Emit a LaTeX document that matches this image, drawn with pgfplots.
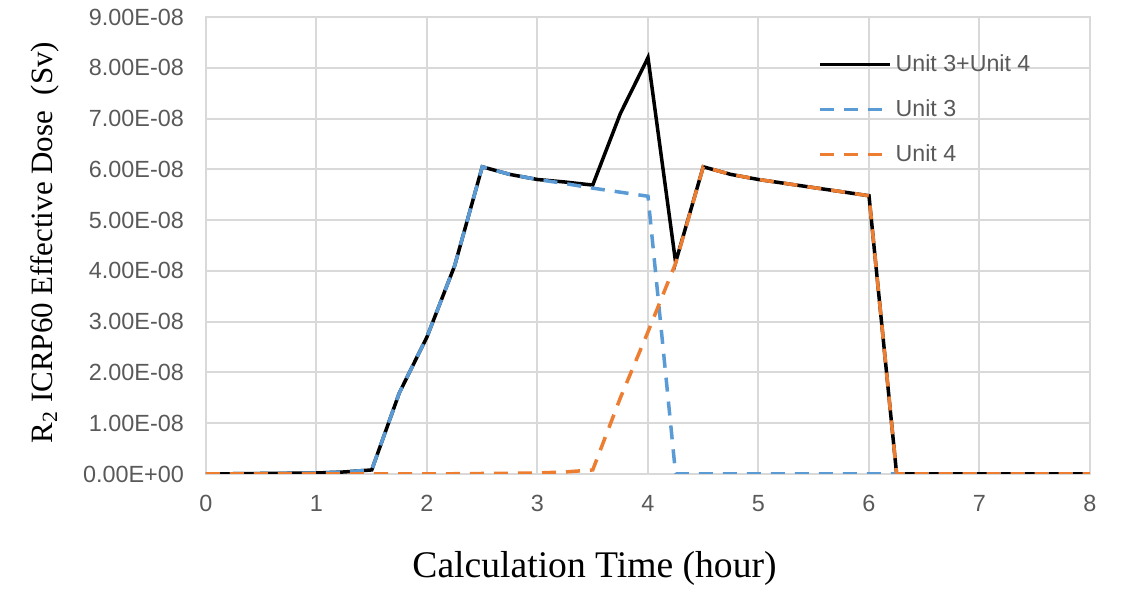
\documentclass[border=0pt]{standalone}
\usepackage{fontspec}
\setmainfont{Liberation Serif}
\newfontfamily\ticksfont{Liberation Sans}
\usepackage{pgfplots}
\pgfplotsset{compat=1.18}
\definecolor{unitblue}{HTML}{5B9BD5}
\definecolor{unitorange}{HTML}{ED7D31}
\definecolor{gridgray}{HTML}{D9D9D9}
\definecolor{labgray}{HTML}{595959}

\begin{document}
\begin{tikzpicture}
\begin{axis}[
  scale only axis,
  width=442pt, height=228.5pt,
  xmin=0, xmax=8, ymin=0, ymax=9e-8,
  xtick={0,1,...,8},
  ytick={0,1e-8,2e-8,3e-8,4e-8,5e-8,6e-8,7e-8,8e-8,9e-8},
  yticklabels={0.00E+00,1.00E-08,2.00E-08,3.00E-08,4.00E-08,5.00E-08,6.00E-08,7.00E-08,8.00E-08,9.00E-08},
  scaled y ticks=false,
  grid=major, grid style={gridgray, line width=1pt},
  axis line style={gridgray, line width=1pt},
  major tick length=0pt,
  tick label style={font=\ticksfont\fontsize{11.7}{13}\selectfont, text=labgray},
  /pgf/number format/assume math mode=true,
  yticklabel style={xshift=-7.5pt},
  xticklabel style={yshift=-7pt},
  xlabel={Calculation Time (hour)},
  ylabel={R\textsubscript{2} ICRP60 Effective Dose~~(Sv)},
  xlabel style={font=\fontsize{18.8}{21}\selectfont, at={(axis description cs:0.4395,-0.2057)}, anchor=center},
  ylabel style={font=\fontsize{15.5}{18}\selectfont, at={(axis description cs:-0.1821,0.5066)}, anchor=center},
  legend style={draw=none, fill=none, at={(0.692,0.927)}, anchor=north west,
    font=\ticksfont\fontsize{11.6}{13}\selectfont, text=labgray,
    row sep=8.5pt, inner sep=0pt},
  legend cell align=left,
  legend image code/.code={\draw[#1] (0pt,0pt) -- (35pt,0pt);},
]
\addplot[black, line width=1.75pt] coordinates {
  (0,0)(0.25,0.005e-8)(0.5,0.01e-8)(0.75,0.015e-8)(1,0.02e-8)(1.25,0.04e-8)(1.5,0.08e-8)
  (1.75,1.6e-8)(2,2.7e-8)(2.25,4.1e-8)(2.5,6.05e-8)(2.75,5.9e-8)(3,5.8e-8)(3.25,5.75e-8)
  (3.5,5.69e-8)(3.75,7.1e-8)(4,8.2e-8)(4.25,4.17e-8)(4.5,6.05e-8)(4.75,5.9e-8)(5,5.8e-8)
  (5.25,5.72e-8)(5.5,5.64e-8)(5.75,5.56e-8)(6,5.48e-8)(6.25,0)(6.5,0)(6.75,0)(7,0)
  (7.25,0)(7.5,0)(7.75,0)(8,0)};
\addlegendentry{Unit 3+Unit 4}
\addplot[unitblue, line width=1.75pt, dash pattern=on 7pt off 5pt] coordinates {
  (0,0)(0.25,0.005e-8)(0.5,0.01e-8)(0.75,0.015e-8)(1,0.02e-8)(1.25,0.04e-8)(1.5,0.08e-8)
  (1.75,1.6e-8)(2,2.7e-8)(2.25,4.1e-8)(2.5,6.05e-8)(2.75,5.9e-8)(3,5.8e-8)(3.25,5.72e-8)
  (3.5,5.63e-8)(3.75,5.55e-8)(4,5.47e-8)(4.25,0)(4.5,0)(4.75,0)(5,0)
  (5.25,0)(5.5,0)(5.75,0)(6,0)(6.25,0)(6.5,0)(6.75,0)(7,0)
  (7.25,0)(7.5,0)(7.75,0)(8,0)};
\addlegendentry{Unit 3}
\addplot[unitorange, line width=1.75pt, dash pattern=on 7pt off 5pt] coordinates {
  (0,0)(0.25,0)(0.5,0)(0.75,0)(1,0)(1.25,0)(1.5,0)
  (1.75,0)(2,0)(2.25,0.005e-8)(2.5,0.01e-8)(2.75,0.015e-8)(3,0.02e-8)(3.25,0.04e-8)
  (3.5,0.08e-8)(3.75,1.5e-8)(4,2.8e-8)(4.25,4.15e-8)(4.5,6.05e-8)(4.75,5.9e-8)(5,5.8e-8)
  (5.25,5.72e-8)(5.5,5.64e-8)(5.75,5.56e-8)(6,5.48e-8)(6.25,0)(6.5,0)(6.75,0)(7,0)
  (7.25,0)(7.5,0)(7.75,0)(8,0)};
\addlegendentry{Unit 4}
\end{axis}
\path[use as bounding box] (-103pt,-57pt) rectangle (459pt,237pt);
\end{tikzpicture}
\end{document}
